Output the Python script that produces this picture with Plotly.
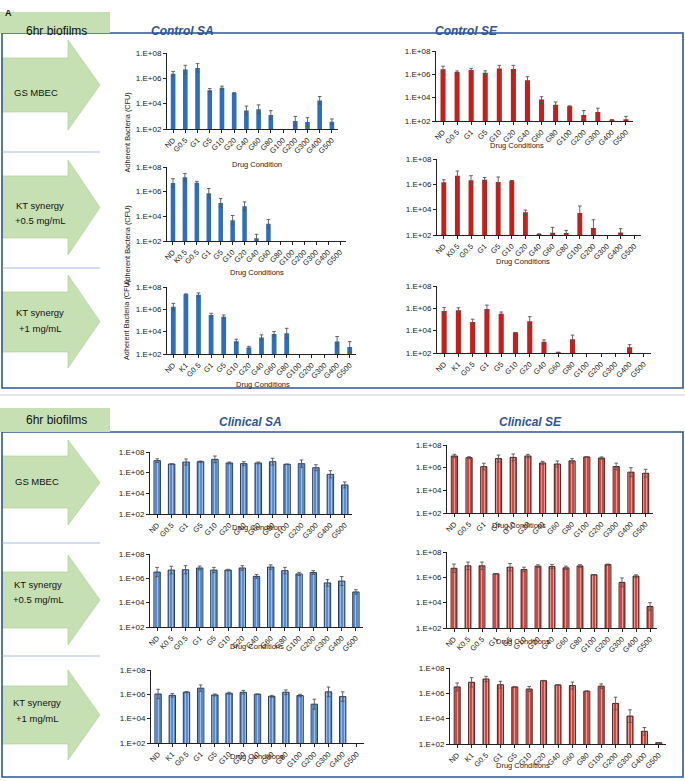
import plotly.graph_objects as go

# ---------------- DATA (CFU) ----------------
cats_gs = ["ND", "G0.5", "G1", "G5", "G10", "G20", "G40", "G60", "G80", "G100", "G200", "G300", "G400", "G500"]
cats_k05 = ["ND", "K0.5", "G0.5", "G1", "G5", "G10", "G20", "G40", "G60", "G80", "G100", "G200", "G300", "G400", "G500"]
cats_k1 = ["ND", "K1", "G0.5", "G1", "G5", "G10", "G20", "G40", "G60", "G80", "G100", "G200", "G300", "G400", "G500"]
ytick_vals = [1e2, 1e4, 1e6, 1e8]
ytick_text = ["1.E+02", "1.E+04", "1.E+06", "1.E+08"]

# Control SA
ctrl_sa_gs = [2.3e6, 4.9e6, 6.6e6, 1.15e5, 1.8e5, 7.1e4, 2.9e3, 3.7e3, 1.3e3, None, 4.3e2, 3.5e2, 1.8e4, 3.8e2]
ctrl_sa_gs_top = [3.5e6, 1.07e7, 1.45e7, 1.55e5, 2.4e5, 7.1e4, 6.5e3, 8.1e3, 2.8e3, None, 9.8e2, 7.8e2, 3.7e4, 6.2e2]
ctrl_sa_k05 = [5.0e6, 1.45e7, 5.4e6, 7.4e5, 1.23e5, 4.9e3, 6.6e4, 1.66e2, 2.5e3, None, None, None, None, None, None]
ctrl_sa_k05_top = [1.12e7, 2.9e7, 6.9e6, 1.8e6, 2.75e5, 1.17e4, 1.48e5, 3.5e2, 5.6e3, None, None, None, None, None, None]
ctrl_sa_k1 = [1.7e6, 2.3e7, 2.0e7, 3.1e5, 2.2e5, 1.4e3, 3.9e2, 3.0e3, 6.3e3, 7.2e3, None, None, None, 1.3e3, 4.2e2]
ctrl_sa_k1_top = [3.4e6, 2.3e7, 2.95e7, 4.4e5, 3.1e5, 2.1e3, 4.8e2, 5.2e3, 1.02e4, 2.0e4, None, None, None, 3.7e3, 1.3e3]

# Control SE
ctrl_se_gs = [2.7e6, 1.6e6, 2.3e6, 1.4e6, 3.1e6, 2.9e6, 3.1e5, 6.8e3, 2.5e3, 1.8e3, 3.2e2, 5.9e2, 1.26e2, 1.4e2]
ctrl_se_gs_top = [4.9e6, 1.95e6, 3.1e6, 2.0e6, 5.9e6, 5.9e6, 6.3e5, 1.2e4, 4.3e3, 2.0e3, 7.9e2, 1.26e3, 1.26e2, 2.5e2]
ctrl_se_k05 = [1.45e6, 4.8e6, 2.1e6, 2.3e6, 1.5e6, 1.95e6, 6.2e3, 1.2e2, 1.5e2, 1.45e2, 5.5e3, 3.5e2, None, 1.6e2, None]
ctrl_se_k05_top = [2.3e6, 1.12e7, 4.8e6, 3.5e6, 3.8e6, 1.95e6, 9.3e3, 1.2e2, 4.0e2, 2.3e2, 1.95e4, 1.6e3, None, 3.2e2, None]
ctrl_se_k1 = [5.8e5, 6.6e5, 6.0e4, 8.5e5, 3.3e5, 6.8e3, 6.9e4, 1.0e3, 1.15e2, 1.7e3, None, None, None, 3.2e2, None]
ctrl_se_k1_top = [1.2e6, 1.12e6, 1.05e5, 1.95e6, 4.7e5, 6.8e3, 1.8e5, 1.5e3, 1.15e2, 4.0e3, None, None, None, 5.6e2, None]

# Clinical SA
clin_sa_gs = [1.45e7, 6.9e6, 1.07e7, 1.15e7, 1.95e7, 8.7e6, 7.4e6, 8.7e6, 1.15e7, 6.5e6, 7.4e6, 3.0e6, 6.9e5, 6.5e4]
clin_sa_gs_top = [2.2e7, 6.9e6, 2.1e7, 1.35e7, 4.1e7, 1.07e7, 1.15e7, 1.07e7, 2.45e7, 6.9e6, 1.7e7, 5.9e6, 1.55e6, 1.26e5]
clin_sa_k05 = [3.3e6, 4.8e6, 5.1e6, 7.1e6, 4.8e6, 4.8e6, 7.1e6, 1.45e6, 8.5e6, 4.3e6, 2.3e6, 3.0e6, 4.2e5, 6.0e5, 7.6e4]
clin_sa_k05_top = [7.9e6, 9.8e6, 1.1e7, 1.02e7, 7.9e6, 5.5e6, 1.1e7, 2.1e6, 1.3e7, 7.9e6, 3.1e6, 4.3e6, 7.8e5, 1.4e6, 1.17e5]
clin_sa_k1 = [1.07e6, 8.3e5, 1.5e6, 3.2e6, 8.9e5, 1.23e6, 1.48e6, 1.02e6, 6.9e5, 1.48e6, 7.9e5, 1.55e5, 1.6e6, 6.5e5, None]
clin_sa_k1_top = [2.6e6, 1.15e6, 1.66e6, 5.9e6, 1.07e6, 1.48e6, 2.1e6, 1.02e6, 8.3e5, 2.3e6, 1.0e6, 4.0e5, 4.0e6, 1.6e6, None]

# Clinical SE
clin_se_gs = [1.07e7, 7.6e6, 1.23e6, 6.3e6, 8.1e6, 1.07e7, 2.6e6, 2.1e6, 4.0e6, 8.9e6, 7.1e6, 1.26e6, 4.0e5, 3.2e5]
clin_se_gs_top = [1.5e7, 9.3e6, 2.45e6, 1.3e7, 1.6e7, 1.5e7, 3.6e6, 3.9e6, 6.3e6, 8.9e6, 8.9e6, 2.5e6, 1.0e6, 7.1e5]
clin_se_k05 = [5.2e6, 8.1e6, 8.1e6, 1.9e6, 6.3e6, 4.2e6, 7.6e6, 7.1e6, 5.6e6, 7.9e6, 1.6e6, 1.0e7, 4.0e5, 1.26e6, 5.0e3]
clin_se_k05_top = [1.1e7, 1.6e7, 1.6e7, 1.9e6, 1.23e7, 6.3e6, 9.8e6, 1.02e7, 7.6e6, 1.0e7, 1.6e6, 1.12e7, 8.9e5, 1.6e6, 1.0e4]
clin_se_k1 = [3.2e6, 7.4e6, 1.35e7, 4.8e6, 3.2e6, 2.2e6, 1.0e7, 4.6e6, 4.1e6, 1.48e6, 3.7e6, 1.6e5, 1.6e4, 1.0e3, 1.26e2]
clin_se_k1_top = [6.6e6, 1.74e7, 2.2e7, 8.9e6, 3.2e6, 3.5e6, 1.05e7, 4.6e6, 7.8e6, 1.48e6, 5.6e6, 5.0e5, 5.0e4, 2.0e3, 1.26e2]

# ---------------- LAYOUT HELPERS ----------------
W, H = 685, 781
FONT = "Arial, Liberation Sans, sans-serif"
def fx(x): return x / W
def fy(y): return 1 - y / H

BLUE_C, RED_C = "#2E6FBD", "#C4201B"
panels = [
    # cats, vals, tops, x0, x1, yTop, yBot, style, xtitle, (tx, ty), ytitle
    (cats_gs, ctrl_sa_gs, ctrl_sa_gs_top, 167, 338, 53, 129, "csa", "Drug Condition", (257, 158), True),
    (cats_gs, ctrl_se_gs, ctrl_se_gs_top, 436, 633, 51, 121, "cse", "Drug Conditions", (546, 139), False),
    (cats_k05, ctrl_sa_k05, ctrl_sa_k05_top, 167, 346, 167, 241, "csa", "Drug Conditions", (257, 272), True),
    (cats_k05, ctrl_se_k05, ctrl_se_k05_top, 437, 641, 159, 235, "cse", "Drug Conditions", (552, 261), False),
    (cats_k1, ctrl_sa_k1, ctrl_sa_k1_top, 167, 356, 287, 354, "csa", "Drug Conditions", (263, 384), True),
    (cats_k1, ctrl_se_k1, ctrl_se_k1_top, 437, 651, 286, 353, "cse", None, None, False),
    (cats_gs, clin_sa_gs, clin_sa_gs_top, 150, 352, 452, 514, "lsa", "Drug Condition", (257, 534), False),
    (cats_gs, clin_se_gs, clin_se_gs_top, 447, 653, 445, 513, "lse", "Drug Conditions", (548, 532), False),
    (cats_k05, clin_sa_k05, clin_sa_k05_top, 150, 363, 554, 627, "lsa", "Drug Conditions", (257, 653), False),
    (cats_k05, clin_se_k05, clin_se_k05_top, 447, 657, 552, 628, "lse", "Drug Conditions", (552, 648), False),
    (cats_k1, clin_sa_k1, clin_sa_k1_top, 151, 364, 670, 743, "lsa", "Drug Conditions", (257, 763), False),
    (cats_k1, clin_se_k1, clin_se_k1_top, 450, 666, 668, 744, "lse", "Drug Conditions", (552, 772), False),
]

styles = {
    "csa": dict(color=BLUE_C, line=dict(width=0), width=0.38),
    "cse": dict(color=RED_C, line=dict(width=0), width=0.36),
    "lsa": dict(color="#5A8BCB", line=dict(color="#1E2D48", width=0.9), width=0.45,
                pattern=dict(shape="|", fgcolor="#A3C2EA", bgcolor="#5A8BCB", size=3, solidity=0.3, fillmode="replace")),
    "lse": dict(color="#CC4A45", line=dict(color="#3A1414", width=0.9), width=0.42,
                pattern=dict(shape="|", fgcolor="#EBA19D", bgcolor="#CC4A45", size=3, solidity=0.3, fillmode="replace")),
}

fig = go.Figure()
annotations = []
shapes = []
TXT = "#222222"

for i, (cats, vals, tops, x0, x1, yT, yB, st, xt, tpos, ytitle) in enumerate(panels, start=1):
    s = styles[st]
    plus, minus = [], []
    for v, t in zip(vals, tops):
        if v is None or t is None:
            plus.append(None); minus.append(None)
        else:
            plus.append(t - v); minus.append(v - v * v / t)
    mk = dict(color=s["color"], line=s["line"])
    if "pattern" in s:
        mk["pattern"] = s["pattern"]
    fig.add_trace(go.Bar(
        x=cats, y=vals, width=s["width"], marker=mk,
        error_y=dict(type="data", symmetric=False, array=plus, arrayminus=minus,
                     color="#555555", thickness=0.9, width=1.8),
        xaxis=f"x{i}", yaxis=f"y{i}", showlegend=False, hoverinfo="x+y",
    ))
    sfx = "" if i == 1 else str(i)
    fig.layout[f"xaxis{sfx}"] = dict(
        domain=[fx(x0), fx(x1)], anchor=f"y{i}", type="category", automargin=False,
        range=[-0.5, len(cats) - 0.5], tickangle=-45,
        tickfont=dict(family=FONT, size=7.5, color=TXT),
        showline=True, linecolor=TXT, linewidth=1, ticks="outside", ticklen=3,
        tickcolor=TXT, showgrid=False, zeroline=False, fixedrange=True,
    )
    fig.layout[f"yaxis{sfx}"] = dict(
        domain=[fy(yB), fy(yT)], anchor=f"x{i}", type="log", range=[2, 8], automargin=False,
        tickvals=ytick_vals, ticktext=ytick_text,
        tickfont=dict(family=FONT, size=8, color=TXT),
        showline=True, linecolor=TXT, linewidth=1, ticks="outside", ticklen=3,
        tickcolor=TXT, showgrid=False, zeroline=False, fixedrange=True,
    )
    if xt:
        annotations.append(dict(text=xt, x=fx(tpos[0]), y=fy(tpos[1]), xref="paper", yref="paper",
                                showarrow=False, font=dict(family=FONT, size=7.5, color=TXT)))
    if ytitle:
        annotations.append(dict(text="Adherent Bacteria (CFU)", x=fx(120), y=fy((yT + yB) / 2),
                                xref="paper", yref="paper", textangle=-90, showarrow=False,
                                font=dict(family=FONT, size=7.3, color=TXT)))

# ---------------- FRAMES, HEADERS, ARROWS ----------------
FRAME = "#2F5597"
GREEN = "#C6E0B4"
def rect(x0, y0, x1, y1, **kw):
    shapes.append(dict(type="rect", xref="paper", yref="paper",
                       x0=fx(x0), x1=fx(x1), y0=fy(y1), y1=fy(y0), **kw))
def hline(x0, x1, y, color, width):
    shapes.append(dict(type="line", xref="paper", yref="paper",
                       x0=fx(x0), x1=fx(x1), y0=fy(y), y1=fy(y), line=dict(color=color, width=width)))
def arrow(ytop, ybot, body_t, body_b, xb=68, xtip=100):
    ym = (ytop + ybot) / 2
    pts = [(2, body_t), (xb, body_t), (xb, ytop), (xtip, ym), (xb, ybot), (xb, body_b), (2, body_b)]
    path = "M " + " L ".join(f"{fx(a):.5f},{fy(b):.5f}" for a, b in pts) + " Z"
    shapes.append(dict(type="path", xref="paper", yref="paper", path=path,
                       fillcolor=GREEN, line=dict(color="#A8CF8E", width=0.6), layer="below"))

hline(0, W, 395, "#CCCCCC", 1)

for (top, bot, hdr_t, seps, arrows_spec) in [
    (33, 388, 12, [152, 268], [(40, 130, 58, 112), (160, 255, 176, 238), (275, 368, 292, 352)]),
    (432, 777, 408, [543, 656], [(440, 525, 456, 508), (555, 645, 572, 628), (670, 760, 686, 744)]),
]:
    rect(2, top, 683, bot, line=dict(color=FRAME, width=1.6), fillcolor="rgba(0,0,0,0)")
    rect(0, hdr_t, 110, top, line=dict(width=0), fillcolor=GREEN)
    for s_ in seps:
        hline(2, 100, s_, "#8EA9DB", 0.8)
    for a in arrows_spec:
        arrow(*a)

def label(text, x, y, size, color="#111", bold=False, italic=False, xanchor="center"):
    t = text
    if bold: t = f"<b>{t}</b>"
    if italic: t = f"<i>{t}</i>"
    annotations.append(dict(text=t, x=fx(x), y=fy(y), xref="paper", yref="paper", showarrow=False,
                            xanchor=xanchor, font=dict(family=FONT, size=size, color=color)))

label("A", 3, 6, 9, bold=True, xanchor="left")
label("6hr biofilms", 56, 22, 12)
label("6hr biofilms", 56, 420, 12)
label("Control SA", 182, 22, 12, color=FRAME, bold=True, italic=True)
label("Control SE", 466, 22, 12, color=FRAME, bold=True, italic=True)
label("Clinical SA", 250, 422, 12, color=FRAME, bold=True, italic=True)
label("Clinical SE", 530, 422, 12, color=FRAME, bold=True, italic=True)

for (txt, x, y) in [
    ("GS MBEC", 36, 85), ("KT synergy", 40, 198), ("+0.5 mg/mL", 40, 213),
    ("KT synergy", 40, 313), ("+1 mg/mL", 40, 328),
    ("GS MBEC", 37, 481), ("KT synergy", 38, 592), ("+0.5 mg/mL", 38, 607),
    ("KT synergy", 37, 710), ("+1 mg/mL", 37, 726),
]:
    label(txt, x, y, 9.5)

fig.update_layout(
    template="none",
    width=W, height=H, margin=dict(l=0, r=0, t=0, b=0, autoexpand=False),
    paper_bgcolor="white", plot_bgcolor="white",
    shapes=shapes, annotations=annotations, barmode="group",
    font=dict(family=FONT, color=TXT),
)
fig.write_html("out.html", config={"displayModeBar": False},
               post_script="document.body.style.margin='0';document.body.style.overflow='hidden';")
